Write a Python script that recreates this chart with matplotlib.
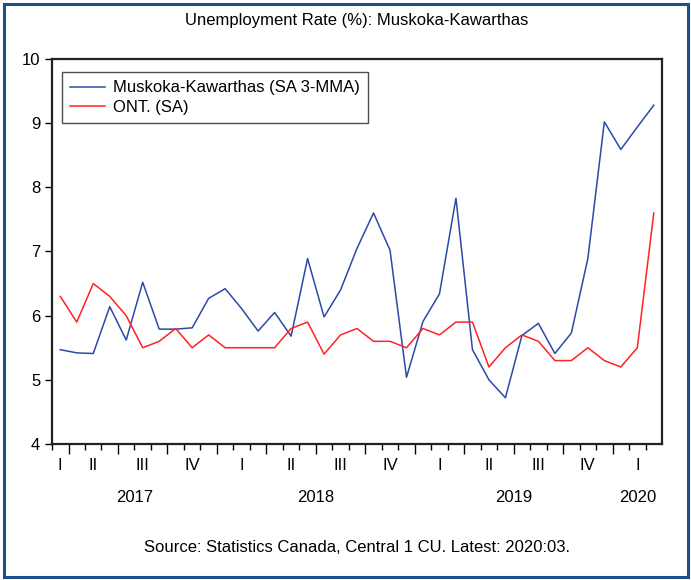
import numpy as np
import pandas as pd
import matplotlib
matplotlib.use("Agg")
import matplotlib.pyplot as plt
from matplotlib.patches import Rectangle
import matplotlib.transforms as mtransforms

plt.rcParams['font.family'] = ['Liberation Sans', 'DejaVu Sans']

# monthly data, 2017:03 to 2020:03
months = pd.period_range('2017-03', '2020-03', freq='M')

muskoka = [5.47, 5.42, 5.41, 6.14, 5.62, 6.52, 5.79, 5.79, 5.81, 6.27,
           6.42, 6.11, 5.76, 6.05, 5.68, 6.89, 5.98, 6.40, 7.05, 7.60,
           7.02, 5.04, 5.91, 6.34, 7.83, 5.47, 5.00, 4.72, 5.69, 5.88,
           5.41, 5.73, 6.89, 9.02, 8.59, 8.94, 9.28]
ontario = [6.3, 5.9, 6.5, 6.3, 6.0, 5.5, 5.6, 5.8, 5.5, 5.7,
           5.5, 5.5, 5.5, 5.5, 5.8, 5.9, 5.4, 5.7, 5.8, 5.6,
           5.6, 5.5, 5.8, 5.7, 5.9, 5.9, 5.2, 5.5, 5.7, 5.6,
           5.3, 5.3, 5.5, 5.3, 5.2, 5.5, 7.6]

series_labels = ['Muskoka-Kawarthas (SA 3-MMA)', 'ONT. (SA)']
quarter_names = ['I', 'II', 'III', 'IV']
title = 'Unemployment Rate (%): Muskoka-Kawarthas'
source = 'Source: Statistics Canada, Central 1 CU. Latest: 2020:03.'

fs = 12
x = np.arange(len(months))

fig = plt.figure(figsize=(6.91, 5.80), dpi=100)
ax = fig.add_axes([0.0753, 0.2345, 0.8828, 0.6638])

ax.plot(x, muskoka, color='#2b4aa8', lw=1.1, label=series_labels[0])
ax.plot(x, ontario, color='#ff2222', lw=1.1, label=series_labels[1])

ax.set_xlim(-0.5, len(months) - 0.5)
ax.set_ylim(4, 10)
ax.set_yticks(np.arange(4, 11, 1))
ax.tick_params(axis='y', direction='out', length=5, width=1, labelsize=fs)

# month ticks (minor) and quarter ticks (major)
ax.set_xticks(x - 0.5, minor=True)
qstart = [i for i, m in enumerate(months) if m.month in (1, 4, 7, 10)]
ax.set_xticks(np.array(qstart) - 0.5)
ax.set_xticklabels([])
ax.tick_params(axis='x', which='minor', direction='out', length=4, width=1)
ax.tick_params(axis='x', which='major', direction='out', length=7, width=1)

for s in ax.spines.values():
    s.set_linewidth(1.6)
    s.set_color('#222222')

trans = mtransforms.blended_transform_factory(ax.transData, fig.transFigure)

# quarter labels, centred on each quarter's months
quarters = pd.Series(x, index=months).groupby(months.asfreq('Q')).mean()
for q, c in quarters.items():
    ax.text(c, 1 - 466 / 580, quarter_names[q.quarter - 1], transform=trans,
            ha='center', va='center', fontsize=fs)

years = pd.Series(x, index=months).groupby(months.year).mean()
for yr, c in years.items():
    ax.text(c, 1 - 498 / 580, str(yr), transform=trans,
            ha='center', va='center', fontsize=fs)

leg = ax.legend(loc='upper left', bbox_to_anchor=(0.0164, 0.966),
                fontsize=fs, frameon=True, fancybox=False, handlelength=2.1,
                borderpad=0.5, labelspacing=0.25, handletextpad=0.45,
                borderaxespad=0)
leg.get_frame().set_edgecolor('#222222')
leg.get_frame().set_linewidth(1.0)

# title and source centred over the plot area
xc = (52 + 662) / 2 / 691
fig.text(xc, 1 - 20 / 580, title, ha='center', va='center', fontsize=fs)
fig.text(xc, 1 - 548 / 580, source, ha='center', va='center', fontsize=fs)

fig.patches.append(Rectangle((3.5 / 691, 3.5 / 580), 684 / 691, 573 / 580,
                             transform=fig.transFigure, fill=False,
                             edgecolor='#1f4e8c', lw=2.2))

fig.savefig('out.png', dpi=100)
